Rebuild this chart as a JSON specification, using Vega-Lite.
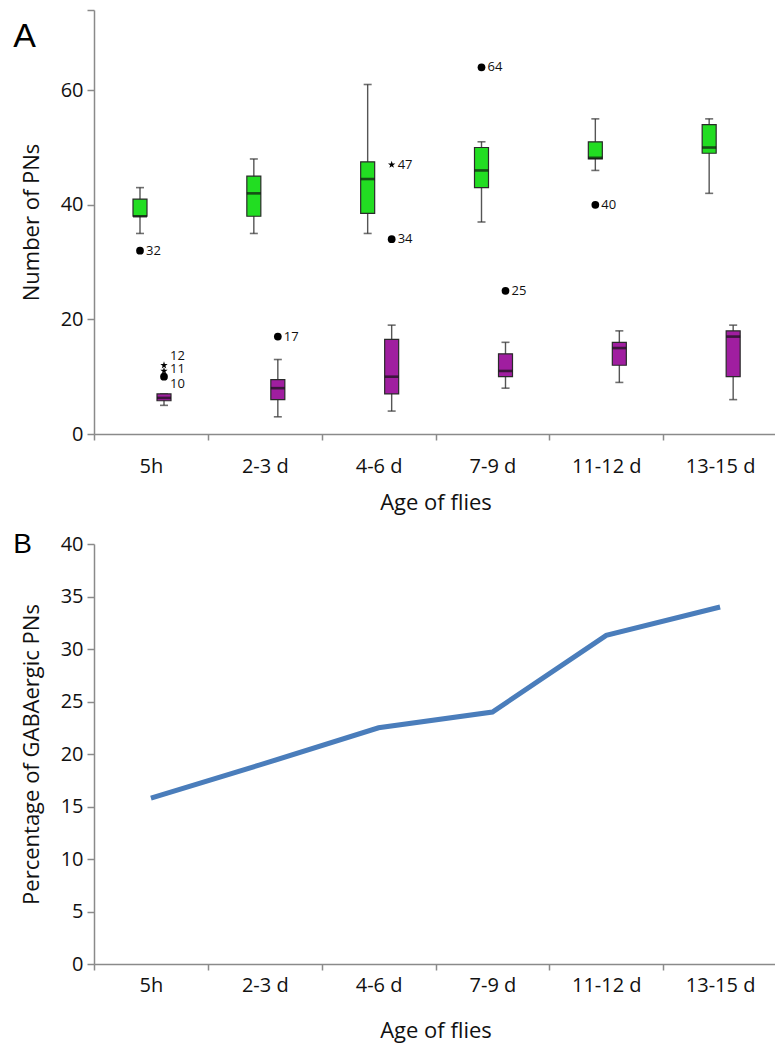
{
  "$schema": "https://vega.github.io/schema/vega-lite/v6.json",
  "padding": {"left": 13, "top": 9, "right": 0, "bottom": 5},
  "spacing": 18,
  "config": {
    "view": {"stroke": null},
    "font": "Open Sans",
    "axis": {
      "grid": false,
      "domainColor": "#8a8a8a",
      "tickColor": "#8a8a8a",
      "domainWidth": 1.5,
      "tickWidth": 1.5,
      "labelColor": "#111111",
      "titleColor": "#111111",
      "labelFont": "Open Sans",
      "titleFont": "Open Sans",
      "labelFontSize": 20,
      "titleFontSize": 22,
      "titleFontWeight": "normal"
    },
    "title": {"font": "Liberation Sans", "fontWeight": "normal", "color": "#000000", "anchor": "start", "frame": "bounds", "baseline": "alphabetic"}
  },
  "datasets": {
    "boxes": [
      {"age": "5h", "col": "GFP", "lo": 35, "q1": 38, "med": 38, "q3": 41, "hi": 43},
      {"age": "2-3 d", "col": "GFP", "lo": 35, "q1": 38, "med": 42, "q3": 45, "hi": 48},
      {"age": "4-6 d", "col": "GFP", "lo": 35, "q1": 38.5, "med": 44.5, "q3": 47.5, "hi": 61},
      {"age": "7-9 d", "col": "GFP", "lo": 37, "q1": 43, "med": 46, "q3": 50, "hi": 51},
      {"age": "11-12 d", "col": "GFP", "lo": 46, "q1": 48, "med": 48.2, "q3": 51, "hi": 55},
      {"age": "13-15 d", "col": "GFP", "lo": 42, "q1": 49, "med": 50, "q3": 54, "hi": 55},
      {"age": "5h", "col": "GABA", "lo": 5, "q1": 5.8, "med": 6.3, "q3": 7, "hi": 7},
      {"age": "2-3 d", "col": "GABA", "lo": 3, "q1": 6, "med": 8, "q3": 9.5, "hi": 13},
      {"age": "4-6 d", "col": "GABA", "lo": 4, "q1": 7, "med": 10, "q3": 16.5, "hi": 19},
      {"age": "7-9 d", "col": "GABA", "lo": 8, "q1": 10, "med": 11, "q3": 14, "hi": 16},
      {"age": "11-12 d", "col": "GABA", "lo": 9, "q1": 12, "med": 15, "q3": 16, "hi": 18},
      {"age": "13-15 d", "col": "GABA", "lo": 6, "q1": 10, "med": 17, "q3": 18, "hi": 19}
    ],
    "outliers": [
      {"age": "5h", "col": "GFP", "value": 32, "shape": "circle"},
      {"age": "5h", "col": "GABA", "value": 12, "shape": "star"},
      {"age": "5h", "col": "GABA", "value": 11, "shape": "star"},
      {"age": "5h", "col": "GABA", "value": 10, "shape": "circle"},
      {"age": "2-3 d", "col": "GABA", "value": 17, "shape": "circle"},
      {"age": "4-6 d", "col": "GABA", "value": 47, "shape": "star"},
      {"age": "4-6 d", "col": "GABA", "value": 34, "shape": "circle"},
      {"age": "7-9 d", "col": "GFP", "value": 64, "shape": "circle"},
      {"age": "7-9 d", "col": "GABA", "value": 25, "shape": "circle"},
      {"age": "11-12 d", "col": "GFP", "value": 40, "shape": "circle"}
    ],
    "labels": [
      {"age": "5h", "col": "GFP", "value": 32, "text": "32"},
      {"age": "5h", "col": "GABA", "value": 13.6, "text": "12"},
      {"age": "5h", "col": "GABA", "value": 11.3, "text": "11"},
      {"age": "5h", "col": "GABA", "value": 8.8, "text": "10"},
      {"age": "2-3 d", "col": "GABA", "value": 17, "text": "17"},
      {"age": "4-6 d", "col": "GABA", "value": 47, "text": "47"},
      {"age": "4-6 d", "col": "GABA", "value": 34, "text": "34"},
      {"age": "7-9 d", "col": "GFP", "value": 64, "text": "64"},
      {"age": "7-9 d", "col": "GABA", "value": 25, "text": "25"},
      {"age": "11-12 d", "col": "GFP", "value": 40, "text": "40"}
    ],
    "pct": [
      {"age": "5h", "pct": 15.8},
      {"age": "2-3 d", "pct": 19.1},
      {"age": "4-6 d", "pct": 22.5},
      {"age": "7-9 d", "pct": 24.0},
      {"age": "11-12 d", "pct": 31.3},
      {"age": "13-15 d", "pct": 34.0}
    ]
  },
  "vconcat": [
    {
      "width": 683,
      "height": 424,
      "title": {"text": "A", "fontSize": 34, "offset": -45, "dx": -7},
      "encoding": {
        "x": {
          "field": "age", "type": "nominal",
          "sort": ["5h", "2-3 d", "4-6 d", "7-9 d", "11-12 d", "13-15 d"],
          "title": "Age of flies",
          "scale": {"paddingInner": 0, "paddingOuter": 0},
          "axis": {"labelAngle": 0, "tickBand": "extent", "tickSize": 6, "labelPadding": 16, "titlePadding": 16}
        },
        "xOffset": {
          "field": "col", "type": "nominal", "sort": ["GFP", "GABA"],
          "scale": {"range": [34, 82], "paddingInner": 0, "paddingOuter": 0}
        }
      },
      "layer": [
        {
          "data": {"name": "boxes"},
          "mark": {"type": "rule", "color": "#555555", "strokeWidth": 1.4},
          "encoding": {
            "y": {
              "field": "lo", "type": "quantitative", "title": "Number of PNs",
              "scale": {"domain": [0, 74], "nice": false},
              "axis": {"values": [0, 20, 40, 60, 74], "labelExpr": "datum.value == 74 ? '' : datum.label", "tickSize": 7, "labelPadding": 4, "titlePadding": 17}
            },
            "y2": {"field": "hi"}
          }
        },
        {
          "data": {"name": "boxes"},
          "mark": {"type": "tick", "color": "#333333", "size": 8, "thickness": 1.6},
          "encoding": {"y": {"field": "lo", "type": "quantitative", "title": "Number of PNs"}}
        },
        {
          "data": {"name": "boxes"},
          "mark": {"type": "tick", "color": "#333333", "size": 8, "thickness": 1.6},
          "encoding": {"y": {"field": "hi", "type": "quantitative", "title": "Number of PNs"}}
        },
        {
          "data": {"name": "boxes"},
          "mark": {"type": "bar", "size": 14, "stroke": "#2a2a2a", "strokeWidth": 1.2},
          "encoding": {
            "y": {"field": "q1", "type": "quantitative", "title": "Number of PNs"},
            "y2": {"field": "q3"},
            "color": {"field": "col", "type": "nominal", "scale": {"domain": ["GFP", "GABA"], "range": ["#22dd22", "#a01ea0"]}, "legend": null}
          }
        },
        {
          "data": {"name": "boxes"},
          "mark": {"type": "tick", "color": "#111111", "size": 14, "thickness": 2.6},
          "encoding": {"y": {"field": "med", "type": "quantitative", "title": "Number of PNs"}}
        },
        {
          "data": {"name": "outliers"},
          "mark": {"type": "point", "filled": true, "color": "#000000", "opacity": 1, "size": 60},
          "encoding": {
            "y": {"field": "value", "type": "quantitative", "title": "Number of PNs"},
            "shape": {"field": "shape", "type": "nominal", "scale": {"domain": ["circle", "star"], "range": ["circle", "M0,-1L0.2245,-0.309L0.9511,-0.309L0.3633,0.118L0.5878,0.809L0,0.382L-0.5878,0.809L-0.3633,0.118L-0.9511,-0.309L-0.2245,-0.309Z"]}, "legend": null}
          }
        },
        {
          "data": {"name": "labels"},
          "mark": {"type": "text", "align": "left", "baseline": "middle", "dx": 6, "fontSize": 13, "font": "Open Sans", "color": "#111111"},
          "encoding": {
            "y": {"field": "value", "type": "quantitative", "title": "Number of PNs"},
            "text": {"field": "text"}
          }
        }
      ]
    },
    {
      "width": 683,
      "height": 420,
      "title": {"text": "B", "fontSize": 28, "offset": -25, "dx": -7},
      "data": {"name": "pct"},
      "mark": {"type": "line", "color": "#4a7dbb", "strokeWidth": 5},
      "encoding": {
        "x": {
          "field": "age", "type": "nominal",
          "sort": ["5h", "2-3 d", "4-6 d", "7-9 d", "11-12 d", "13-15 d"],
          "title": "Age of flies",
          "scale": {"paddingInner": 0, "paddingOuter": 0},
          "axis": {"labelAngle": 0, "tickBand": "extent", "tickSize": 6, "labelPadding": 5, "titlePadding": 25}
        },
        "y": {
          "field": "pct", "type": "quantitative", "title": "Percentage of GABAergic PNs",
          "scale": {"domain": [0, 40], "nice": false},
          "axis": {"values": [0, 5, 10, 15, 20, 25, 30, 35, 40], "tickSize": 7, "labelPadding": 4, "titlePadding": 17}
        }
      }
    }
  ]
}
